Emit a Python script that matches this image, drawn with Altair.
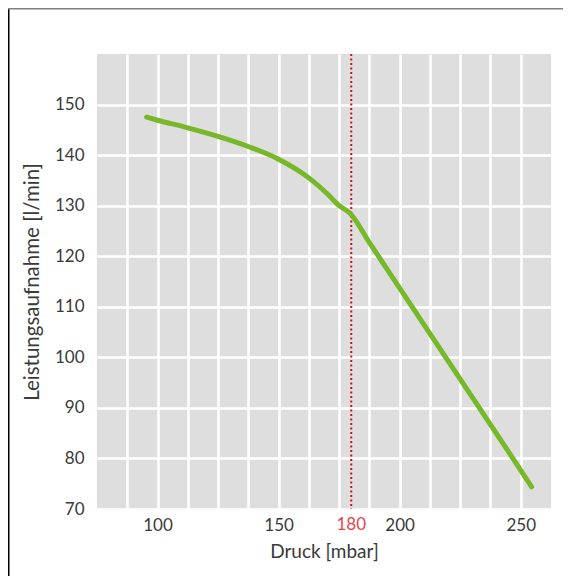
import altair as alt
import pandas as pd

# Data
druck = [95.5, 100, 112.5, 125, 137.5, 150, 162.5, 170, 175, 179.5, 187.5, 200, 212.5, 225, 237.5, 254.5]
leistung = [147.5, 146.9, 145.4, 143.7, 141.7, 139.2, 135.5, 132.4, 130.0, 128.5, 122.7, 113.7, 104.7, 95.7, 86.7, 74.4]
marker_x = [180]
marker_label = ["180"]
x_grid = [87.5, 100, 112.5, 125, 137.5, 150, 162.5, 175, 187.5, 200, 212.5, 225, 237.5, 250]
x_labels = [100, 150, 200, 250]
y_ticks = [70, 80, 90, 100, 110, 120, 130, 140, 150]

df = pd.DataFrame({"Druck": druck, "Leistung": leistung})
mdf = pd.DataFrame({"x": marker_x, "label": marker_label})
one = pd.DataFrame({"a": [0]})

FONT = "Lato"
W, H = 454, 455
LABEL_SIZE = 17

xscale = alt.Scale(domain=[75, 262.5], nice=False, zero=False)
yscale = alt.Scale(domain=[70, 160], nice=False, zero=False)

xaxis = alt.Axis(
    values=x_grid,
    tickCount=40,
    title="Druck [mbar]",
    labelExpr="indexof([100,150,200,250], datum.value) >= 0 ? datum.label : ''",
    labelOverlap=False,
    ticks=False, domain=False, labelPadding=8, titlePadding=9,
    labelFontSize=LABEL_SIZE, titleFontSize=19,
)
yaxis = alt.Axis(
    values=y_ticks,
    tickCount=40,
    title="Leistungsaufnahme [l/min]",
    labelOverlap=False,
    ticks=False, domain=False, labelPadding=13, titlePadding=12,
    labelFontSize=LABEL_SIZE, titleFontSize=20.5,
)

line = alt.Chart(df).mark_line(
    color="#76b82a", strokeWidth=5, strokeCap="round", strokeJoin="round", interpolate="monotone"
).encode(
    x=alt.X("Druck:Q", scale=xscale, axis=xaxis),
    y=alt.Y("Leistung:Q", scale=yscale, axis=yaxis),
)

marker = alt.Chart(mdf).mark_rule(color="#cc1419", strokeWidth=2, strokeDash=[2, 2.5]).encode(
    x=alt.X("x:Q", scale=xscale),
)

marker_text = alt.Chart(mdf).mark_text(
    color="#e0474c", font=FONT, fontSize=LABEL_SIZE, baseline="top"
).encode(
    x=alt.X("x:Q", scale=xscale),
    y=alt.value(H + 8),
    text="label:N",
)

frame_left = alt.Chart(one).mark_rule(color="#000000", strokeWidth=1.5).encode(
    x=alt.value(-88.25), y=alt.value(-46), y2=alt.value(H + 70)
)
frame_top = alt.Chart(one).mark_rule(color="#808080", strokeWidth=1.5).encode(
    x=alt.value(-89), x2=alt.value(W + 20), y=alt.value(-45.25)
)

chart = alt.layer(marker, line, marker_text, frame_left, frame_top).properties(
    width=W, height=H,
    autosize=alt.AutoSizeParams(type="none"),
    padding={"left": 89, "top": 46, "right": 12, "bottom": 67},
    background="white",
).configure_view(
    fill="#dedede", stroke=None
).configure_axis(
    gridColor="white", gridWidth=2.5,
    labelFont=FONT, titleFont=FONT,
    labelFontWeight="normal", titleFontWeight="normal",
    labelColor="#3a3a3a", titleColor="#3a3a3a",
)

chart.save("out.html", embed_options={"renderer": "svg", "actions": False})
